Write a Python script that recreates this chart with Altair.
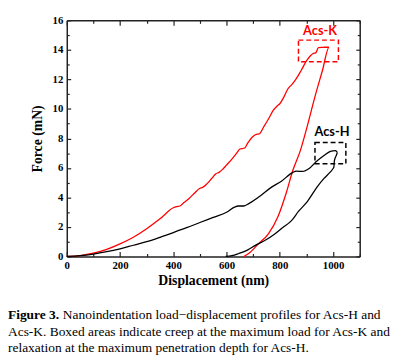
import altair as alt
import pandas as pd

# ---- data ----
k_load_x = [0, 50, 100, 150, 200, 250, 300, 350, 400, 412, 425, 440, 460, 480, 500, 510, 525, 545, 560, 572, 585,
            600, 620, 640, 650, 668, 680, 700, 712, 722, 740, 760, 775, 790, 800, 815, 830, 845, 860, 880, 900, 915,
            925, 935, 945, 960, 985]
k_load_y = [0, 0.06, 0.22, 0.48, 0.85, 1.3, 1.88, 2.55, 3.3, 3.38, 3.42, 3.65, 3.95, 4.3, 4.62, 4.68, 4.9, 5.3, 5.6,
            5.7, 5.9, 6.2, 6.6, 7.05, 7.28, 7.35, 7.7, 8.15, 8.28, 8.3, 8.8, 9.4, 9.9, 10.2, 10.35, 10.8, 11.35, 11.65,
            12.0, 12.6, 13.25, 13.6, 13.75, 13.8, 14.15, 14.17, 14.19]
k_unload_x = [985, 960, 930, 904, 877, 849, 824, 794, 757, 720, 683, 665]
k_unload_y = [14.19, 12.6, 10.7, 8.9, 7.17, 5.84, 4.3, 2.74, 1.53, 0.86, 0.2, 0.0]

h_load_x = [0, 50, 100, 150, 200, 250, 300, 350, 400, 450, 500, 550, 600, 630, 645, 665, 685, 730, 769, 806, 849,
            862, 886, 910, 935, 966, 990, 1009, 1017, 1012, 1005, 1003]
h_load_y = [0, 0.05, 0.16, 0.32, 0.52, 0.76, 1.0, 1.3, 1.62, 1.95, 2.3, 2.65, 3.0, 3.35, 3.42, 3.42, 3.6, 4.15,
            4.7, 5.1, 5.7, 5.78, 5.76, 5.96, 6.4, 6.84, 7.12, 7.17, 7.06, 6.84, 6.5, 6.06]
h_unload_x = [1000, 990, 966, 941, 904, 870, 843, 810, 781, 745, 708, 680, 646, 620, 597]
h_unload_y = [5.96, 5.73, 5.29, 4.73, 3.74, 3.05, 2.41, 1.95, 1.53, 1.1, 0.75, 0.45, 0.2, 0.05, 0.0]

series = ["Acs-K", "Acs-H"]
colors = ["#ff0000", "#000000"]

box_x1 = [870, 932]
box_x2 = [1020, 1048]
box_y1 = [13.19, 6.28]
box_y2 = [14.66, 7.72]

label_x = [951, 996]
label_y = [15.27, 8.45]

x_ticks = [0, 100, 200, 300, 400, 500, 600, 700, 800, 900, 1000, 1100]
y_ticks = list(range(0, 17))

caption_bold = "Figure 3."
caption_line1 = "Nanoindentation load\u2212displacement profiles for Acs-H and"
caption_rest = ["Acs-K. Boxed areas indicate creep at the maximum load for Acs-K and",
                "relaxation at the maximum penetration depth for Acs-H."]

# ---- tables ----
rows = []
def add(name, xs, ys, start):
    for i, (a, b) in enumerate(zip(xs, ys)):
        rows.append({"series": name, "x": a, "y": b, "o": start + i})
add("Acs-K", k_load_x, k_load_y, 0)
add("Acs-K", k_unload_x, k_unload_y, 1000)
add("Acs-H", h_load_x, h_load_y, 0)
add("Acs-H", h_unload_x, h_unload_y, 1000)
df = pd.DataFrame(rows)

boxes = pd.DataFrame({"series": series, "x1": box_x1, "x2": box_x2, "y1": box_y1, "y2": box_y2})
labels = pd.DataFrame({"series": series, "x": label_x, "y": label_y})

xscale = alt.Scale(domain=[0, 1100], nice=False, zero=False)
yscale = alt.Scale(domain=[0, 16], nice=False, zero=False)
cscale = alt.Scale(domain=series, range=colors)

axis_common = dict(grid=False, domainColor="#222", domainWidth=1.5, tickColor="#222", tickWidth=1.2,
                   labelFont="Liberation Serif", labelFontWeight="bold", labelFontSize=11, labelColor="#000",
                   titleFont="Liberation Serif", titleFontWeight="bold", titleFontSize=14, titleColor="#000")

x_tick = {"condition": {"test": "datum.value % 200 === 0", "value": -5}, "value": -3}
y_tick = {"condition": {"test": "datum.value % 2 === 0", "value": -4}, "value": -2.5}

x_bottom = alt.Axis(values=x_ticks, labelExpr="datum.value % 200 === 0 ? datum.label : ''", format="d",
                    title="Displacement (nm)", tickSize=x_tick, labelPadding=8, titlePadding=4,
                    labelFlush=False, **axis_common)
y_left = alt.Axis(values=y_ticks, labelExpr="datum.value % 2 === 0 ? datum.label : ''",
                  title="Force (mN)", tickSize=y_tick, labelPadding=8, titlePadding=8, **axis_common)
x_top = alt.Axis(values=x_ticks, orient="top", labels=False, title=None, tickSize=x_tick, **axis_common)
y_right = alt.Axis(values=y_ticks, orient="right", labels=False, title=None, tickSize=y_tick, **axis_common)

lines = alt.Chart(df).mark_line(strokeWidth=1.3, interpolate="monotone").encode(
    x=alt.X("x:Q", scale=xscale, axis=x_bottom),
    y=alt.Y("y:Q", scale=yscale, axis=y_left),
    color=alt.Color("series:N", scale=cscale, legend=None),
    detail="series:N",
    order="o:Q",
)

frame = alt.Chart(df).mark_line(opacity=0).encode(
    x=alt.X("x:Q", scale=xscale, axis=x_top),
    y=alt.Y("y:Q", scale=yscale, axis=y_right),
    detail="series:N",
)

rects = alt.Chart(boxes).mark_rect(fillOpacity=0, strokeWidth=1.5, strokeDash=[5, 3]).encode(
    x=alt.X("x1:Q", scale=xscale, axis=None),
    x2="x2:Q",
    y=alt.Y("y1:Q", scale=yscale, axis=None),
    y2="y2:Q",
    stroke=alt.Color("series:N", scale=cscale, legend=None),
)

texts = alt.Chart(labels).mark_text(font="Lato", fontWeight="bold", fontSize=13).encode(
    x=alt.X("x:Q", scale=xscale, axis=None),
    y=alt.Y("y:Q", scale=yscale, axis=None),
    text="series:N",
    color=alt.Color("series:N", scale=cscale, legend=None),
)

one = alt.Data(values=[{"a": 1}])
cap_font = "Liberation Serif"
cap_size = 13.7
cap1 = alt.Chart(one).mark_text(font=cap_font, fontSize=cap_size, fontWeight="bold", align="left",
                                baseline="middle", color="#000").encode(
    x=alt.value(-60), y=alt.value(301), text=alt.value(caption_bold))
cap2 = alt.Chart(one).mark_text(font=cap_font, fontSize=cap_size, align="left",
                                baseline="middle", color="#000").encode(
    x=alt.value(-4), y=alt.value(301), text=alt.value(caption_line1))
cap3 = alt.Chart(one).mark_text(font=cap_font, fontSize=cap_size, align="left", lineHeight=16.5,
                                baseline="middle", color="#000").encode(
    x=alt.value(-60), y=alt.value(318), text=alt.value(caption_rest))

chart = alt.layer(lines, frame, rects, texts, cap1, cap2, cap3).resolve_axis(
    x="independent", y="independent"
).properties(
    width=299, height=241,
    autosize=alt.AutoSizeParams(type="none"),
    padding={"left": 60, "top": 9, "right": 35, "bottom": 99},
).configure_view(stroke=None)

chart.save("out.html", embed_options={"renderer": "svg", "actions": False})
